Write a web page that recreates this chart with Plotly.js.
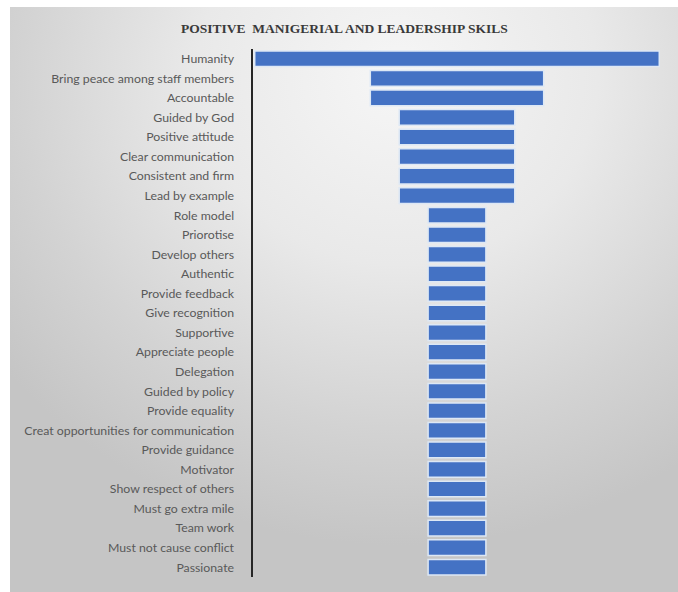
<!DOCTYPE html>
<html>
<head>
<meta charset="utf-8">
<script src="https://cdn.plot.ly/plotly-3.0.1.min.js"></script>
<style>
  html, body { margin: 0; padding: 0; background: #ffffff; }
  #wrap { position: relative; width: 678px; height: 592px; background: #ffffff; overflow: hidden; }
  #bg { position: absolute; left: 10px; top: 7px; right: 0; bottom: 0;
        background: radial-gradient(ellipse 75% 80% at 58% 12%, #f6f6f6 0%, #e9e9e9 40%, #d3d3d3 75%, #c5c5c5 100%); }
  #chart { position: absolute; left: 0; top: 0; width: 678px; height: 592px; }
</style>
</head>
<body>
<div id="wrap"><div id="bg"></div><div id="chart"></div></div>
<script>
const categories = [
  "Humanity", "Bring peace among staff members", "Accountable", "Guided by God",
  "Positive attitude", "Clear communication", "Consistent and firm", "Lead by example",
  "Role model", "Priorotise", "Develop others", "Authentic", "Provide feedback",
  "Give recognition", "Supportive", "Appreciate people", "Delegation", "Guided by policy",
  "Provide equality", "Creat opportunities for communication", "Provide guidance",
  "Motivator", "Show respect of others", "Must go extra mile", "Team work",
  "Must not cause conflict", "Passionate"
];
const counts = [7, 3, 3, 2, 2, 2, 2, 2, 1, 1, 1, 1, 1, 1, 1, 1, 1, 1, 1, 1, 1, 1, 1, 1, 1, 1, 1];
const chartTitle = "POSITIVE  MANIGERIAL AND LEADERSHIP SKILS";

const trace = {
  type: "funnel",
  orientation: "h",
  y: categories,
  x: counts,
  textinfo: "none",
  hoverinfo: "skip",
  connector: { visible: false },
  marker: { color: "#4472C4", line: { color: "#dde8f5", width: 1.5 } }
};

const layout = {
  width: 678, height: 592,
  margin: { l: 253, r: 17, t: 49, b: 15 },
  paper_bgcolor: "rgba(0,0,0,0)",
  plot_bgcolor: "rgba(0,0,0,0)",
  funnelgap: 0.2,
  showlegend: false,
  title: {
    text: "<b>" + chartTitle + "</b>",
    x: 0.508, xanchor: "center", y: 0.953, yanchor: "middle",
    font: { family: "Liberation Serif, DejaVu Serif, serif", size: 13.5, color: "#3a3a3a" }
  },
  xaxis: { visible: false, range: [-3.53, 3.53], fixedrange: true },
  yaxis: {
    type: "category",
    range: [categories.length - 0.5, -0.5],
    autorange: false,
    showline: true, linecolor: "#262626", linewidth: 2.5,
    showgrid: false, zeroline: false,
    ticks: "outside", ticklen: 14, tickcolor: "rgba(0,0,0,0)",
    tickfont: { family: "Lato, Open Sans, sans-serif", size: 12.3, color: "#595959" },
    fixedrange: true
  }
};

Plotly.newPlot("chart", [trace], layout, { displayModeBar: false, staticPlot: true });
</script>
</body>
</html>
